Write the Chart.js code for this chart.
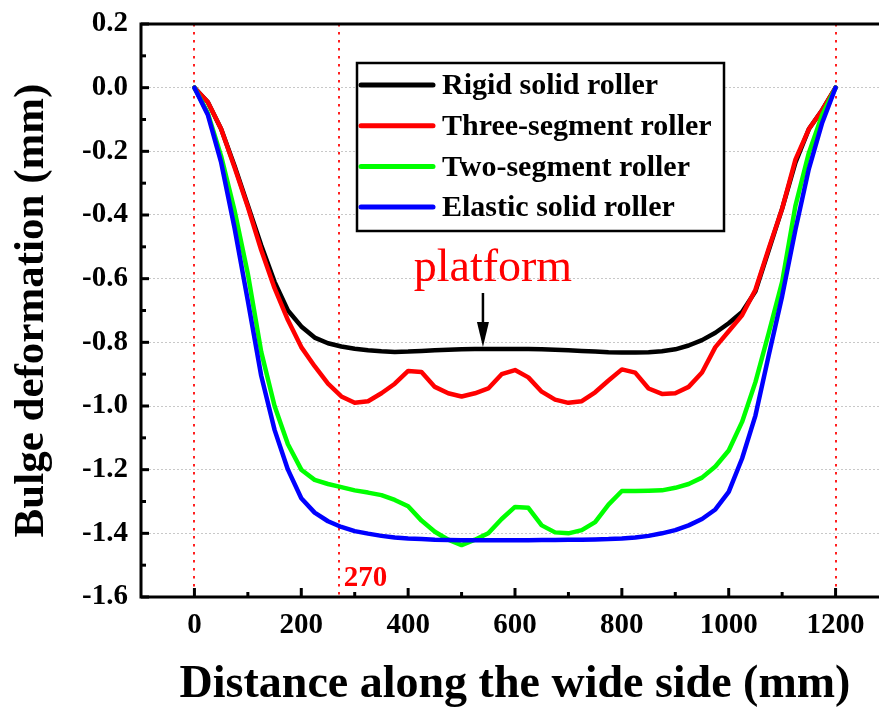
<!DOCTYPE html>
<html>
<head>
<meta charset="utf-8">
<script src="https://cdn.jsdelivr.net/npm/chart.js@4.4.1/dist/chart.umd.min.js"></script>
<style>
  html,body{margin:0;padding:0;background:#fff;overflow:hidden}
  #wrap{width:900px;height:708px}
</style>
</head>
<body>
<div id="wrap"><canvas id="chart" width="900" height="708"></canvas></div>
<script>
// distance along the wide side (mm)
const xs = [0,25,50,75,100,125,150,175,200,225,250,275,300,325,350,375,400,425,450,475,500,525,550,575,600,
  625,650,675,700,725,750,775,800,825,850,875,900,925,950,975,1000,1025,1050,1075,1100,1125,1150,1175,1200];

const rigid = [0,-0.045,-0.13,-0.245,-0.37,-0.495,-0.61,-0.70,-0.75,-0.785,-0.803,-0.813,-0.82,-0.825,-0.828,-0.83,
  -0.829,-0.827,-0.825,-0.823,-0.822,-0.821,-0.821,-0.821,-0.821,-0.821,-0.822,-0.823,-0.825,-0.827,-0.829,-0.831,
  -0.832,-0.832,-0.831,-0.828,-0.822,-0.81,-0.793,-0.77,-0.74,-0.705,-0.64,-0.51,-0.38,-0.235,-0.13,-0.07,0];

const threeSeg = [0,-0.045,-0.13,-0.25,-0.375,-0.51,-0.63,-0.73,-0.815,-0.875,-0.93,-0.97,-0.99,-0.985,-0.96,-0.93,
  -0.89,-0.893,-0.94,-0.96,-0.97,-0.96,-0.945,-0.9,-0.887,-0.91,-0.955,-0.98,-0.99,-0.985,-0.957,-0.92,
  -0.885,-0.895,-0.945,-0.962,-0.96,-0.94,-0.895,-0.815,-0.765,-0.715,-0.635,-0.505,-0.38,-0.225,-0.13,-0.07,0];

const twoSeg = [0,-0.08,-0.215,-0.385,-0.585,-0.83,-1.0,-1.12,-1.2,-1.232,-1.245,-1.255,-1.265,-1.272,-1.28,-1.295,
  -1.315,-1.36,-1.395,-1.42,-1.437,-1.42,-1.40,-1.355,-1.317,-1.32,-1.375,-1.397,-1.40,-1.39,-1.365,-1.31,
  -1.267,-1.267,-1.266,-1.265,-1.257,-1.245,-1.225,-1.19,-1.14,-1.05,-0.925,-0.77,-0.61,-0.37,-0.205,-0.085,0];

const elastic = [0,-0.085,-0.235,-0.44,-0.67,-0.905,-1.075,-1.2,-1.29,-1.335,-1.362,-1.38,-1.393,-1.401,-1.408,-1.413,
  -1.416,-1.418,-1.42,-1.421,-1.422,-1.422,-1.422,-1.422,-1.422,-1.422,-1.421,-1.421,-1.42,-1.42,-1.419,-1.418,
  -1.416,-1.413,-1.408,-1.40,-1.39,-1.375,-1.355,-1.325,-1.27,-1.165,-1.03,-0.84,-0.655,-0.445,-0.255,-0.11,0];

const seriesNames = ['Rigid solid roller','Three-segment roller','Two-segment roller','Elastic solid roller'];
const seriesColors = ['#000000','#ff0000','#00ff00','#0000ff'];
const xTicks = [0,200,400,600,800,1000,1200];
const xMinor = [100,300,500,700,900,1100];
const yTicks = [-1.6,-1.4,-1.2,-1.0,-0.8,-0.6,-0.4,-0.2,0.0,0.2];
const yMinor = [-1.5,-1.3,-1.1,-0.9,-0.7,-0.5,-0.3,-0.1,0.1];
const refLines = [0,270,1200];

const serif = "'Liberation Serif','Times New Roman',serif";
const toPoints = arr => xs.map((x,i)=>({x, y: arr[i]}));

const decor = {
  id: 'decor',
  beforeDatasetsDraw(chart){
    const {ctx, chartArea:a, scales:{x}} = chart;
    ctx.save();
    ctx.strokeStyle = '#ff2020';
    ctx.lineWidth = 2;
    ctx.setLineDash([2.5,5.5]);
    refLines.forEach(v=>{
      const px = Math.round(x.getPixelForValue(v));
      ctx.beginPath(); ctx.moveTo(px, a.top); ctx.lineTo(px, a.bottom); ctx.stroke();
    });
    ctx.restore();
  },
  afterDraw(chart){
    const {ctx, chartArea:a, scales:{x,y}} = chart;
    ctx.save();

    // frame
    ctx.strokeStyle = '#000'; ctx.lineWidth = 3;
    ctx.strokeRect(a.left, a.top, a.right-a.left, a.bottom-a.top);

    // inward ticks
    const tick = (x0,y0,x1,y1)=>{ctx.beginPath();ctx.moveTo(x0,y0);ctx.lineTo(x1,y1);ctx.stroke();};
    ctx.lineWidth = 3;
    xTicks.forEach(v=>{const p=x.getPixelForValue(v); tick(p,a.bottom,p,a.bottom-9);});
    xMinor.forEach(v=>{const p=x.getPixelForValue(v); tick(p,a.bottom,p,a.bottom-5);});
    yTicks.forEach(v=>{const p=y.getPixelForValue(v); tick(a.left,p,a.left+8,p);});
    yMinor.forEach(v=>{const p=y.getPixelForValue(v); tick(a.left,p,a.left+5,p);});

    // legend
    const lx=357, ly=63, lw=367, lh=168;
    ctx.fillStyle='#fff'; ctx.fillRect(lx,ly,lw,lh);
    ctx.lineWidth=2.5; ctx.strokeStyle='#000'; ctx.strokeRect(lx,ly,lw,lh);
    ctx.font = 'bold 30px '+serif;
    ctx.textBaseline='middle'; ctx.textAlign='left';
    ctx.lineCap='round';
    seriesNames.forEach((name,i)=>{
      const yy = 85 + i*40.7;
      ctx.strokeStyle = seriesColors[i]; ctx.lineWidth = 5;
      tick(361, yy, 433, yy);
      ctx.fillStyle='#000';
      ctx.fillText(name, 442, yy+1.5);
    });

    // platform annotation
    const ax = x.getPixelForValue(540);
    ctx.fillStyle='#ff0000';
    ctx.font = '46px '+serif;
    ctx.textAlign='center'; ctx.textBaseline='alphabetic';
    ctx.fillText('platform', ax+10, 281);
    ctx.strokeStyle='#000'; ctx.lineWidth=2.5; ctx.lineCap='butt';
    tick(ax, 293, ax, 326);
    ctx.fillStyle='#000';
    ctx.beginPath(); ctx.moveTo(ax-6,322); ctx.lineTo(ax+6,322); ctx.lineTo(ax,347); ctx.closePath(); ctx.fill();

    // 270 label
    ctx.fillStyle='#ff0000';
    ctx.font = 'bold 29px '+serif;
    ctx.textAlign='left';
    ctx.fillText('270', x.getPixelForValue(270)+5, 586);

    ctx.restore();
  }
};

const datasets = [rigid, threeSeg, twoSeg, elastic].map((arr,i)=>({
  label: seriesNames[i],
  data: toPoints(arr),
  borderColor: seriesColors[i],
  backgroundColor: seriesColors[i],
  order: 3-i
}));

new Chart(document.getElementById('chart').getContext('2d'), {
  type: 'line',
  data: {datasets},
  options: {
    responsive: false,
    animation: false,
    layout: {padding: {top: 24, right: 11, left: 0, bottom: 0}},
    plugins: {legend: {display: false}, tooltip: {enabled: false}},
    elements: {
      point: {radius: 0},
      line: {borderWidth: 4.5, tension: 0, borderCapStyle: 'round', borderJoinStyle: 'round', fill: false}
    },
    scales: {
      x: {
        type: 'linear', min: -100, max: 1300,
        afterBuildTicks: s => { s.ticks = xTicks.map(v=>({value:v})); },
        afterFit: s => { s.height = 111; s.paddingLeft = 0; s.paddingRight = 0; },
        grid: {display: false},
        border: {display: false},
        ticks: {color: '#000', font: {family: serif, size: 29, weight: 'bold'}, padding: 3, maxRotation: 0, autoSkip: false,
          callback: v => String(v)},
        title: {display: true, text: 'Distance along the wide side (mm)', color: '#000',
          font: {family: serif, size: 46, weight: 'bold', lineHeight: 1}, padding: 0}
      },
      y: {
        type: 'linear', min: -1.6, max: 0.2,
        afterBuildTicks: s => { s.ticks = yTicks.map(v=>({value:v})); },
        afterFit: s => { s.width = 141; s.paddingTop = 0; s.paddingBottom = 0; },
        grid: {color: '#c8c8c8', lineWidth: 1, drawTicks: false},
        border: {display: false, dash: [2,2]},
        ticks: {color: '#000', font: {family: serif, size: 29, weight: 'bold'}, padding: 13,
          callback: v => Number(v).toFixed(1)},
        title: {display: true, text: 'Bulge deformation (mm)', color: '#000',
          font: {family: serif, size: 43, weight: 'bold', lineHeight: 1}, padding: {top: 10, bottom: 0}}
      }
    }
  },
  plugins: [decor]
});
</script>
</body>
</html>
